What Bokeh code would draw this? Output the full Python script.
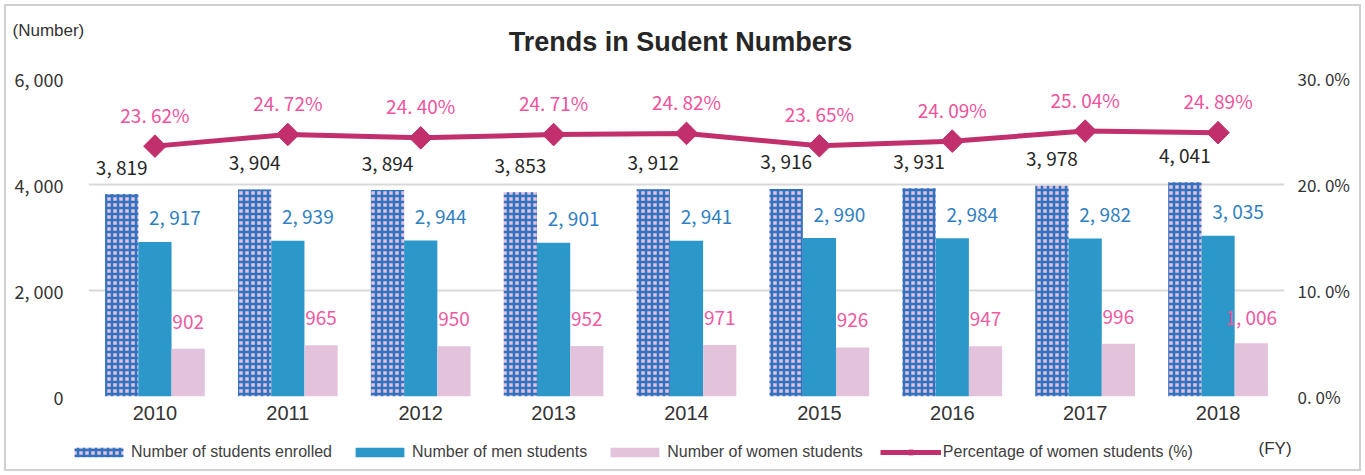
from bokeh.plotting import figure
from bokeh.layouts import column
from bokeh.models import (ColumnDataSource, LinearAxis, Range1d, FixedTicker, LabelSet, Label,
                          Legend, LegendItem)
from bokeh.transform import dodge
from bokeh.core.properties import value
from bokeh.embed import file_html
from bokeh.resources import INLINE

# ---------------- data ----------------
years = [2010, 2011, 2012, 2013, 2014, 2015, 2016, 2017, 2018]
enrolled = [3819, 3904, 3894, 3853, 3912, 3916, 3931, 3978, 4041]
men = [2917, 2939, 2944, 2901, 2941, 2990, 2984, 2982, 3035]
women = [902, 965, 950, 952, 971, 926, 947, 996, 1006]
pct_women = [23.62, 24.72, 24.40, 24.71, 24.82, 23.65, 24.09, 25.04, 24.89]
count_ticks = [0, 2000, 4000, 6000]
pct_ticks = [0, 10, 20, 30]
series_names = ["Number of students enrolled", "Number of men students",
                "Number of women students", "Percentage of women students (%)"]
title_text = "Trends in Sudent Numbers"
y_unit_text = "(Number)"
x_unit_text = "(FY)"

# ---------------- styles ----------------
C_ENR_FILL, C_ENR_HATCH = "#e6c0dc", "#2e74c0"
C_MEN = "#2c97c9"
C_WOM = "#e3c2dc"
C_LINE = "#c1306d"
NUM_FONT = value("Noto Sans CJK JP")
TXT_FONT = "Liberation Sans"
W = 1365


def fmt_count(v):
    return f"{v:,}".replace(",", ", ")


def fmt_pct(v):
    return f"{v:.2f}".replace(".", ". ") + "%"


src = ColumnDataSource(dict(
    year=years, enrolled=enrolled, men=men, women=women, pct=pct_women,
    enrolled_lbl=[fmt_count(v) for v in enrolled],
    men_lbl=[fmt_count(v) for v in men],
    women_lbl=[fmt_count(v) for v in women],
    pct_lbl=[fmt_pct(v) for v in pct_women],
))


def no_align(f):
    try:
        f.frame_align = False
    except Exception:
        pass


def blank_fig(h):
    f = figure(width=W, height=h, x_range=Range1d(0, W), y_range=Range1d(h, 0),
               output_backend="svg", toolbar_location=None,
               x_axis_location=None, y_axis_location=None,
               min_border=0, min_border_left=0, min_border_right=0,
               min_border_top=0, min_border_bottom=0,
               background_fill_color="white", border_fill_color="white")
    f.title.visible = False
    f.outline_line_color = None
    f.xgrid.visible = False
    f.ygrid.visible = False
    no_align(f)
    return f


# ---------------- header: title and unit ----------------
header = blank_fig(60)
header.add_layout(Label(x=680, y=41, text=title_text, text_align="center",
                        text_baseline="middle", text_font=TXT_FONT, text_font_size="27px",
                        text_font_style="bold", text_color="#262626"))
header.add_layout(Label(x=12, y=30, text=y_unit_text, text_align="left",
                        text_baseline="middle", text_font=TXT_FONT, text_font_size="17px",
                        text_color="#333333"))

# ---------------- main chart ----------------
p = figure(width=W, height=370, x_range=Range1d(2009.5, 2018.5), y_range=Range1d(0, 6000),
           output_backend="svg", toolbar_location=None,
           min_border_left=88, min_border_right=81, min_border_top=18, min_border_bottom=34,
           background_fill_color="white", border_fill_color="white")
p.title.visible = False
no_align(p)
p.extra_y_ranges = {"pct": Range1d(0, 30)}
p.outline_line_color = None

p.xgrid.visible = False
p.ygrid.ticker = FixedTicker(ticks=count_ticks)
p.ygrid.grid_line_color = "#d9d9d9"
p.ygrid.grid_line_width = 2

yax = p.yaxis[0]
yax.ticker = FixedTicker(ticks=count_ticks)
yax.major_label_overrides = {t: fmt_count(t) for t in count_ticks}
yax.axis_line_color = None
yax.major_tick_line_color = None
yax.minor_tick_line_color = None
yax.major_label_standoff = 19
yax.major_label_text_font = "Noto Sans CJK JP"
yax.major_label_text_font_size = "18px"
yax.major_label_text_color = "#333333"

rax = LinearAxis(y_range_name="pct", ticker=FixedTicker(ticks=pct_ticks),
                 major_label_overrides={t: f"{t}. 0%" for t in pct_ticks})
rax.axis_line_color = None
rax.major_tick_line_color = None
rax.minor_tick_line_color = None
rax.major_label_standoff = 7
rax.major_label_text_font = "Noto Sans CJK JP"
rax.major_label_text_font_size = "17px"
rax.major_label_text_color = "#333333"
p.add_layout(rax, "right")

xax = p.xaxis[0]
xax.ticker = FixedTicker(ticks=years)
xax.axis_line_color = None
xax.major_tick_line_color = None
xax.minor_tick_line_color = None
xax.major_label_standoff = 3
xax.major_label_text_font = TXT_FONT
xax.major_label_text_font_size = "20px"
xax.major_label_text_color = "#333333"

enr_style = dict(fill_color=C_ENR_FILL, line_color=None, hatch_pattern="+",
                 hatch_color=C_ENR_HATCH, hatch_scale=6, hatch_weight=2.5)
men_style = dict(fill_color=C_MEN, line_color=None)
wom_style = dict(fill_color=C_WOM, line_color=None)
line_style = dict(line_width=5, line_color=C_LINE)
mark_style = dict(marker="square", angle=0.7853981634, fill_color=C_LINE, line_color=C_LINE)

p.vbar(x=dodge("year", -0.25, range=p.x_range), top="enrolled", width=0.25, source=src,
       **enr_style)
p.vbar(x="year", top="men", width=0.25, source=src, **men_style)
p.vbar(x=dodge("year", 0.25, range=p.x_range), top="women", width=0.25, source=src, **wom_style)
p.line(x="year", y="pct", y_range_name="pct", source=src, **line_style)
p.scatter(x="year", y="pct", y_range_name="pct", source=src, size=16, **mark_style)

p.add_layout(LabelSet(x=dodge("year", -0.25, range=p.x_range), y="enrolled", text="enrolled_lbl",
                      source=src, y_offset=28, text_align="center", text_baseline="middle",
                      text_font=NUM_FONT, text_font_size="19px", text_color="#262626"))
p.add_layout(LabelSet(x="year", y="men", text="men_lbl", source=src, x_offset=20, y_offset=25,
                      text_align="center", text_baseline="middle",
                      text_font=NUM_FONT, text_font_size="19px", text_color="#2f80c3"))
p.add_layout(LabelSet(x=dodge("year", 0.25, range=p.x_range), y="women", text="women_lbl",
                      source=src, y_offset=27, text_align="center", text_baseline="middle",
                      text_font=NUM_FONT, text_font_size="19px", text_color="#ef5aa0"))
p.add_layout(LabelSet(x="year", y="pct", y_range_name="pct", text="pct_lbl", source=src,
                      y_offset=32, text_align="center", text_baseline="middle",
                      text_font=NUM_FONT, text_font_size="19px", text_color="#f0529c"))

# ---------------- footer: legend and x unit ----------------
# legend swatches come from copies of the series glyphs; their x (years) lies outside
# the footer's pixel range, so only the legend shows them
footer = blank_fig(45)
g_enr = footer.vbar(x="year", top="enrolled", width=1, source=src, **enr_style)
g_men = footer.vbar(x="year", top="men", width=1, source=src, **men_style)
g_wom = footer.vbar(x="year", top="women", width=1, source=src, **wom_style)
g_line = footer.line(x="year", y="pct", source=src, **line_style)
g_mark = footer.scatter(x="year", y="pct", source=src, size=13, **mark_style)
legend = Legend(items=[
    LegendItem(label=series_names[0], renderers=[g_enr]),
    LegendItem(label=series_names[1], renderers=[g_men]),
    LegendItem(label=series_names[2], renderers=[g_wom]),
    LegendItem(label=series_names[3], renderers=[g_line, g_mark]),
], orientation="horizontal", location=(68, 13), glyph_width=61, glyph_height=12,
    label_standoff=2, spacing=17, padding=0, margin=0, label_height=20,
    border_line_color=None, background_fill_alpha=0,
    label_text_font=TXT_FONT, label_text_font_size="16px", label_text_color="#404040")
footer.add_layout(legend)
footer.add_layout(Label(x=1258, y=18, text=x_unit_text, text_align="left",
                        text_baseline="middle", text_font=TXT_FONT, text_font_size="17px",
                        text_color="#333333"))

layout = column(header, p, footer, spacing=0)
layout.stylesheets = [
    ":host { position: relative; }"
    " :host::after { content: ''; position: absolute; left: 4px; top: 4px; right: 4px;"
    " bottom: 4px; border: 2px solid #d0d0d0; pointer-events: none; z-index: 100; }"
]

open("out.html", "w").write(file_html(layout, INLINE))
